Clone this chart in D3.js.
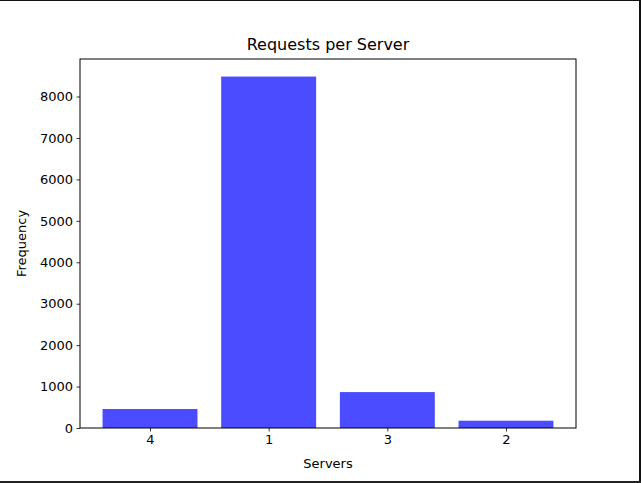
<!DOCTYPE html>
<html>
<head>
<meta charset="utf-8">
<script src="https://cdn.jsdelivr.net/npm/d3@7"></script>
<style>
  body { margin: 0; background: #fff; }
  svg { display: block; font-family: "DejaVu Sans", sans-serif; }
</style>
</head>
<body>
<div id="chart"></div>
<script>
// Data
var servers = ["4", "1", "3", "2"];
var requests = [458, 8482, 867, 176];
var yTicks = [0, 1000, 2000, 3000, 4000, 5000, 6000, 7000, 8000];

var W = 641, H = 483;
var margin = {left: 80, right: 65, top: 59, bottom: 55};
var width = W - margin.left - margin.right,
    height = H - margin.top - margin.bottom;

var svg = d3.select("#chart")
    .append("svg")
        .attr("width", W)
        .attr("height", H);

// frame lines seen on the edges of the reference
svg.append("rect").attr("x", 0).attr("y", 0).attr("width", W).attr("height", 1).attr("fill", "#111");
svg.append("rect").attr("x", 639).attr("y", 0).attr("width", 2).attr("height", H).attr("fill", "#111");
svg.append("rect").attr("x", 0).attr("y", 481).attr("width", W).attr("height", 2).attr("fill", "#222");

var chartGroup = svg.append("g")
    .attr("transform", `translate(${margin.left}, ${margin.top})`);

// x: categorical positions 0..n-1, bar width 0.8, matplotlib-like 5% margins
var n = servers.length;
var xPad = (n - 1 + 0.8) * 0.05;
var xLinear = d3.scaleLinear()
    .domain([-0.4 - xPad, n - 1 + 0.4 + xPad])
    .range([0, width]);

var yMax = d3.max(requests) * 1.05;
var yLinear = d3.scaleLinear()
    .domain([0, yMax])
    .range([height, 0]);

// Bars
chartGroup.selectAll("rect.bar")
    .data(requests)
    .enter()
    .append("rect")
    .classed("bar", true)
    .attr("x", (d, i) => xLinear(i - 0.4))
    .attr("width", (d, i) => xLinear(i + 0.4) - xLinear(i - 0.4))
    .attr("y", d => yLinear(d))
    .attr("height", d => height - yLinear(d))
    .attr("fill", "#4b4bff");

// Axes
var bottomAxis = d3.axisBottom(xLinear)
    .tickValues(d3.range(n))
    .tickFormat(i => servers[i])
    .tickSizeOuter(0)
    .tickSize(3.5)
    .tickPadding(3.5);
var leftAxis = d3.axisLeft(yLinear)
    .tickValues(yTicks)
    .tickFormat(d3.format("d"))
    .tickSizeOuter(0)
    .tickSize(3.5)
    .tickPadding(3.5);

var xAxis = chartGroup.append("g")
    .attr("transform", `translate(0, ${height})`)
    .call(bottomAxis);
var yAxis = chartGroup.append("g")
    .call(leftAxis);

[xAxis, yAxis].forEach(function(ax) {
    ax.select(".domain").remove();
    ax.selectAll("text")
        .attr("font-size", "13px")
        .attr("font-family", "DejaVu Sans, sans-serif")
        .attr("fill", "#000");
    ax.selectAll("line").attr("stroke", "#000").attr("stroke-width", 0.8);
});

// Axes frame
chartGroup.append("rect")
    .attr("x", 0).attr("y", 0)
    .attr("width", width).attr("height", height)
    .attr("fill", "none")
    .attr("stroke", "#000")
    .attr("stroke-width", 1);

// Title
chartGroup.append("text")
    .attr("x", width / 2)
    .attr("y", -9)
    .attr("text-anchor", "middle")
    .attr("font-size", "16px")
    .text("Requests per Server");

// Axis labels
chartGroup.append("text")
    .attr("x", width / 2)
    .attr("y", height + 40)
    .attr("text-anchor", "middle")
    .attr("font-size", "13px")
    .text("Servers");

chartGroup.append("text")
    .attr("transform", `translate(-54, ${height / 2}) rotate(-90)`)
    .attr("text-anchor", "middle")
    .attr("font-size", "13px")
    .text("Frequency");
</script>
</body>
</html>
